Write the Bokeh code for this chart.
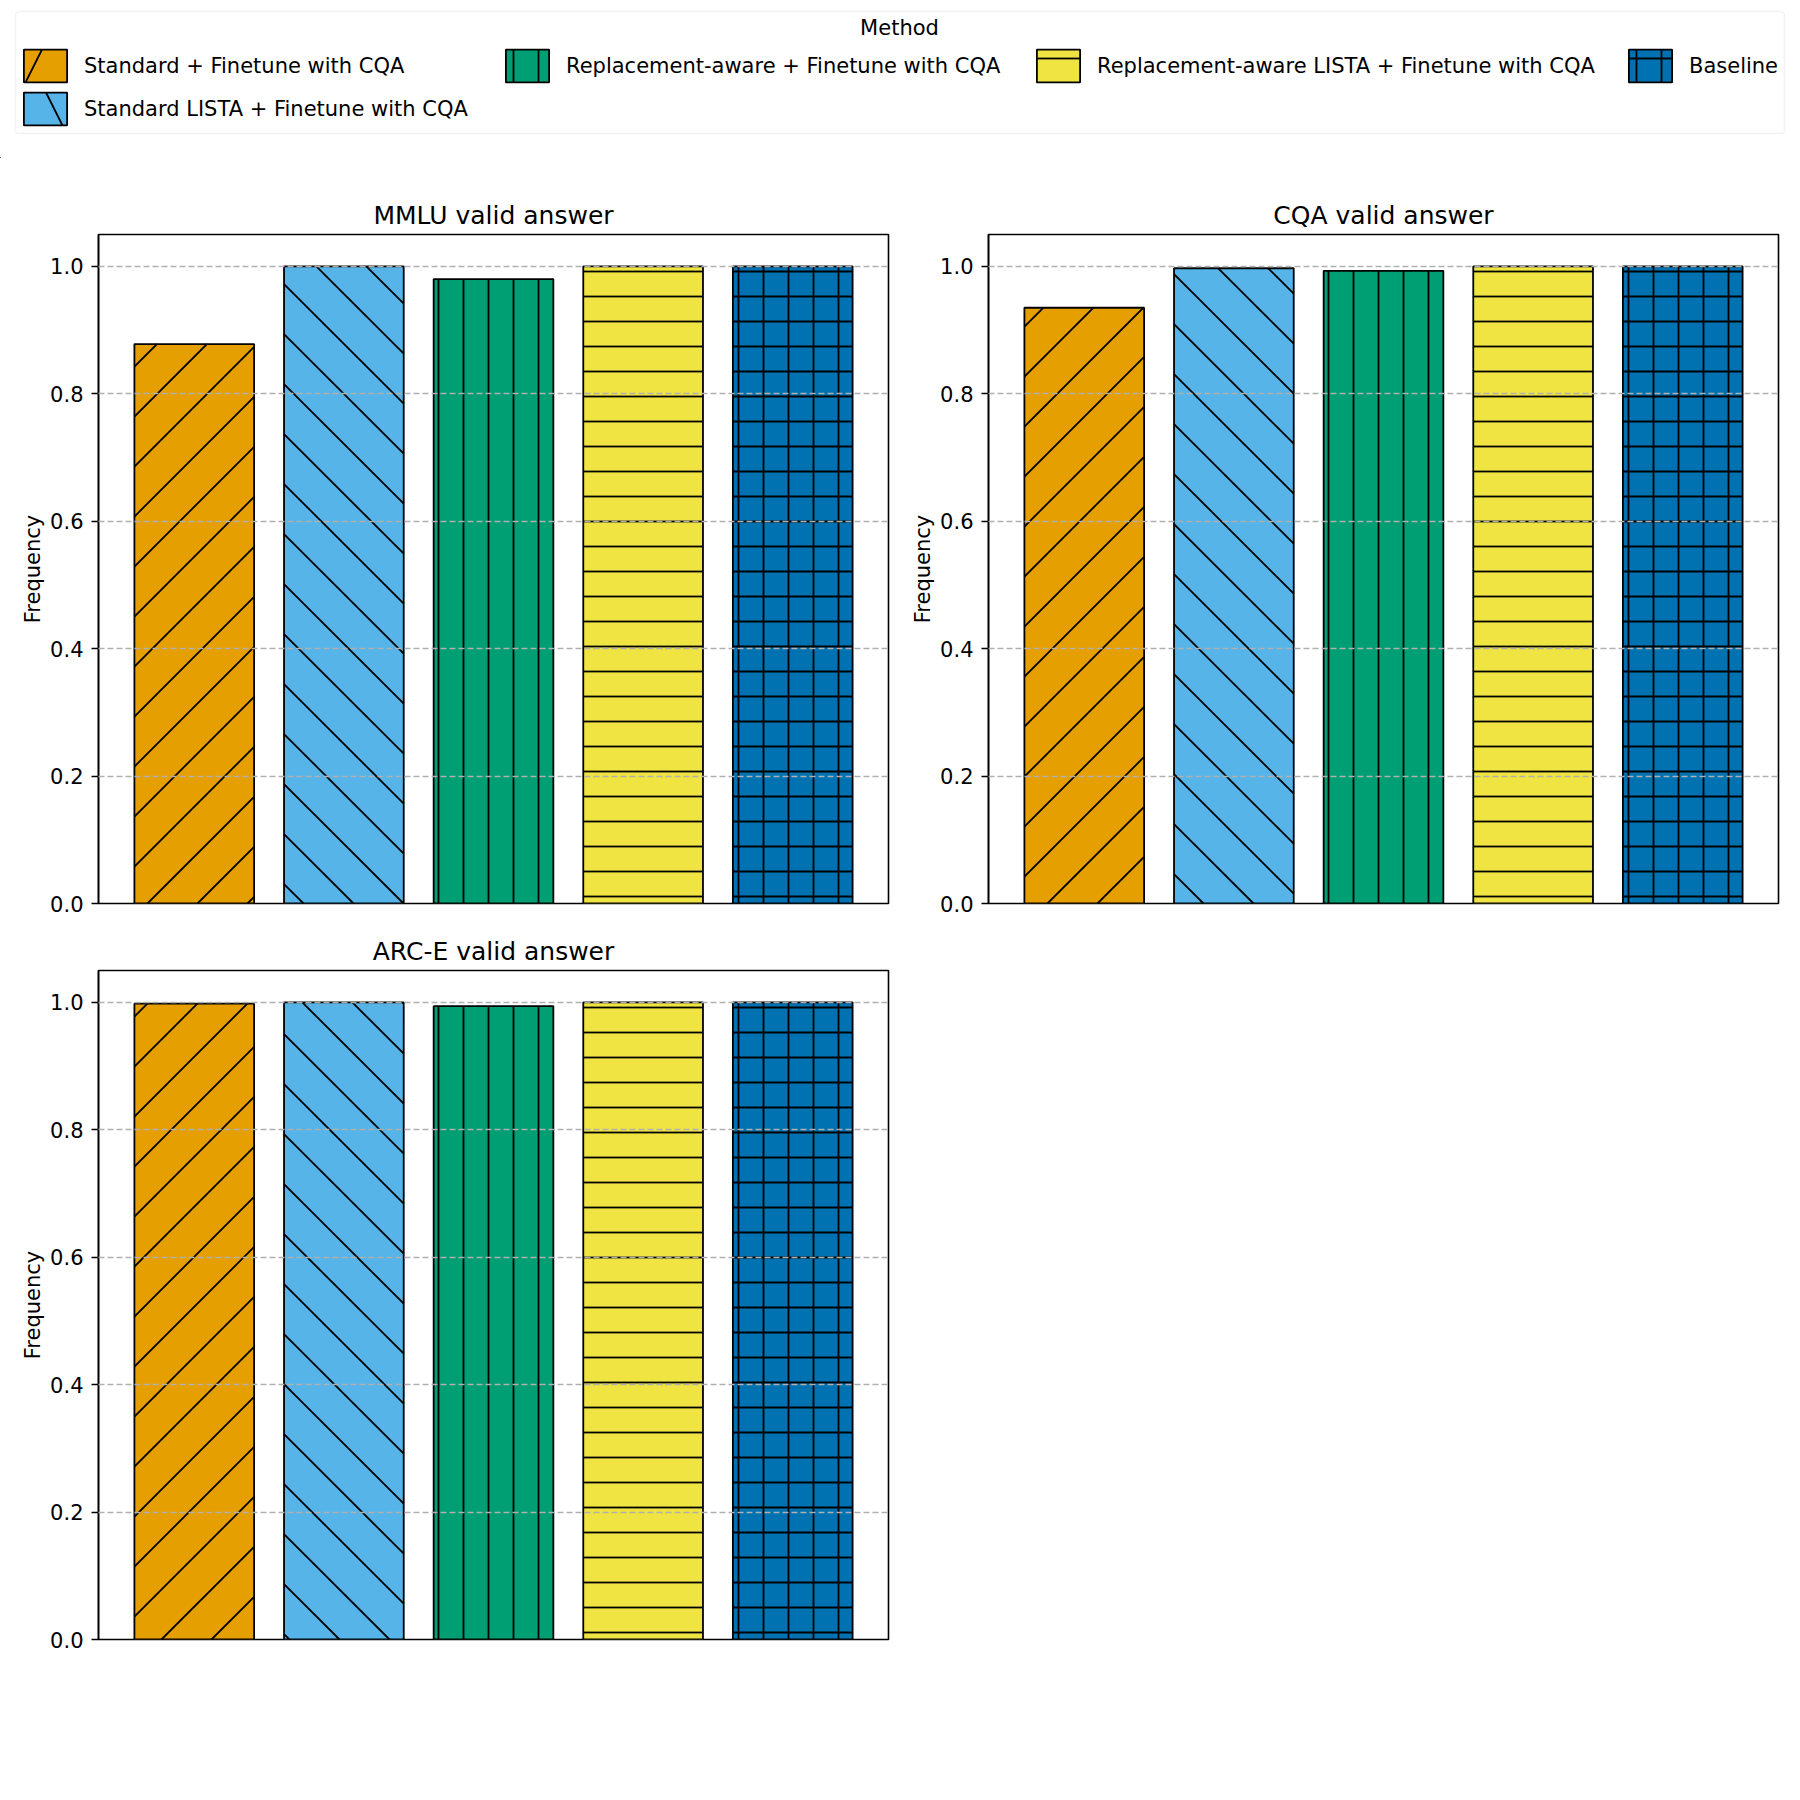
import math
from bokeh.plotting import figure
from bokeh.models import (ColumnDataSource, FactorRange, Range1d, FixedTicker,
                          NumeralTickFormatter, Legend, LegendItem, BoxAnnotation, Label)
from bokeh.layouts import column, row
from bokeh.embed import file_html
from bokeh.resources import INLINE

# methods, in plotting order
methods = [
    "Standard + Finetune with CQA",
    "Standard LISTA + Finetune with CQA",
    "Replacement-aware + Finetune with CQA",
    "Replacement-aware LISTA + Finetune with CQA",
    "Baseline",
]
colors = ["#E69F00", "#56B4E9", "#009E73", "#F0E442", "#0072B2"]
hatches = ["/", "\\", "|", "-", "+"]

# frequency of a valid answer per benchmark
mmlu_valid = [0.878, 1.0, 0.980, 1.0, 1.0]
cqa_valid = [0.935, 0.997, 0.993, 1.0, 1.0]
arce_valid = [0.998, 1.0, 0.994, 1.0, 1.0]

y_ticks = [0.0, 0.2, 0.4, 0.6, 0.8, 1.0]

FONT = "DejaVu Sans"
FRAME_W = 790
FRAME_H = 669
PAD = 0.14        # factor range padding on each side
Y_MAX = 1.05
BAR_W = 0.8
DIAG = ("/", "\\")
HATCH_W = 1.8


def diagonal_hatch(values, frame_left, frame_bottom, step=50):
    # bokeh's "/" and "\" patterns are steep, so build 45 degree hatch lines
    # (in screen space) inside each diagonal-hatched bar
    sx = FRAME_W / (len(methods) + 2 * PAD)
    sy = FRAME_H / Y_MAX
    x0s, y0s, x1s, y1s = [], [], [], []
    for i, (v, h) in enumerate(zip(values, hatches)):
        if h not in DIAG:
            continue
        left = (i + 0.5 - BAR_W / 2 + PAD) * sx
        right = (i + 0.5 + BAR_W / 2 + PAD) * sx
        top = v * sy
        if h == "/":
            phase = -(frame_left + frame_bottom) % step
            k0 = math.floor((left - top - phase) / step)
            k1 = math.ceil((right - phase) / step)
            for k in range(k0, k1 + 1):
                c = phase + k * step          # fx - fy = c
                xa, xb = max(left, c), min(right, c + top)
                if xb > xa:
                    x0s.append(xa); y0s.append(xa - c)
                    x1s.append(xb); y1s.append(xb - c)
        else:
            phase = (frame_bottom - frame_left) % step
            k0 = math.floor((left - phase) / step)
            k1 = math.ceil((right + top - phase) / step)
            for k in range(k0, k1 + 1):
                c = phase + k * step          # fx + fy = c
                xa, xb = max(left, c - top), min(right, c)
                if xb > xa:
                    x0s.append(xa); y0s.append(c - xa)
                    x1s.append(xb); y1s.append(c - xb)
    to_x = lambda px: px / sx - PAD
    to_y = lambda py: py / sy
    return ColumnDataSource(dict(x0=[to_x(v) for v in x0s], y0=[to_y(v) for v in y0s],
                                 x1=[to_x(v) for v in x1s], y1=[to_y(v) for v in y1s]))


def make_panel(title, values, left, right, top, bottom, frame_left, frame_bottom):
    p = figure(width=left + FRAME_W + right, height=top + FRAME_H + bottom,
               title=title,
               x_range=FactorRange(*methods, range_padding=PAD,
                                   range_padding_units="absolute"),
               y_range=Range1d(0, Y_MAX),
               x_axis_location=None,
               min_border_left=left, min_border_right=right,
               min_border_top=top, min_border_bottom=bottom,
               toolbar_location=None, output_backend="svg")
    src = ColumnDataSource(dict(method=methods, value=values, color=colors,
                                pattern=[" " if h in DIAG else h for h in hatches]))
    p.vbar(x="method", top="value", width=BAR_W, source=src,
           fill_color="color", line_color=None,
           hatch_pattern="pattern", hatch_scale=25,
           hatch_color="black", hatch_weight=HATCH_W)
    p.segment(x0="x0", y0="y0", x1="x1", y1="y1",
              source=diagonal_hatch(values, frame_left, frame_bottom),
              line_color="black", line_width=HATCH_W)
    p.vbar(x="method", top="value", width=BAR_W, source=src,
           fill_color=None, line_color="black", line_width=1.8)

    p.title.align = "center"
    p.title.text_font = FONT
    p.title.text_font_size = "25px"
    p.title.text_font_style = "normal"
    p.title.text_color = "black"
    p.title.standoff = 9

    ax = p.yaxis[0]
    ax.ticker = FixedTicker(ticks=y_ticks)
    ax.formatter = NumeralTickFormatter(format="0.0")
    ax.axis_label = "Frequency"
    ax.axis_label_text_font = FONT
    ax.axis_label_text_font_size = "21px"
    ax.axis_label_text_font_style = "normal"
    ax.axis_label_text_color = "black"
    ax.axis_label_standoff = 2
    ax.major_label_text_font = FONT
    ax.major_label_text_font_size = "21px"
    ax.major_label_text_color = "black"
    ax.major_label_standoff = 8
    ax.major_tick_out = 7
    ax.major_tick_in = 0
    ax.minor_tick_out = 0
    ax.minor_tick_in = 0
    ax.major_tick_line_width = 1.6
    ax.axis_line_width = 1.6
    ax.axis_line_color = "black"

    p.xgrid.grid_line_color = None
    p.ygrid.grid_line_color = "#b0b0b0"
    p.ygrid.grid_line_dash = "6 3"
    p.ygrid.grid_line_width = 1.6
    p.ygrid.level = "overlay"

    p.outline_line_color = "black"
    p.outline_line_width = 1.6
    return p


# legend strip across the top
LW, LH = 1792, 158
leg = figure(width=LW, height=LH, x_range=Range1d(0, LW), y_range=Range1d(0, LH),
             x_axis_location=None, y_axis_location=None, min_border=0,
             toolbar_location=None, output_backend="svg")
leg.outline_line_color = None
leg.grid.visible = False

proxy = ColumnDataSource(dict(x=[-100] * 5, top=[-50] * 5, color=colors,
                              pattern=hatches,
                              hscale=[100 if h in DIAG else 25 for h in hatches]))
proxy_r = leg.vbar(x="x", top="top", bottom=-80, width=10, source=proxy,
                   fill_color="color", line_color="black", line_width=1.8,
                   hatch_pattern="pattern", hatch_scale="hscale",
                   hatch_color="black", hatch_weight=HATCH_W)

leg.add_layout(BoxAnnotation(left=15, right=1784, bottom=25, top=147,
                             fill_alpha=0, line_color="#d4d4d4", line_width=1.6,
                             border_radius=4))
leg.add_layout(Label(x=899, y=131, text="Method", text_align="center",
                     text_baseline="middle", text_font=FONT,
                     text_font_size="21px", text_color="black"))

# matplotlib-style column layout: [0, 1], [2], [3], [4]
columns = [([0, 1], 18, 29), ([2], 500, 72), ([3], 1031, 72), ([4], 1623, 72)]
for idx, x0, y0 in columns:
    items = [LegendItem(label=methods[i], renderers=[proxy_r], index=i) for i in idx]
    lg = Legend(items=items, location=(x0, y0), orientation="vertical",
                glyph_width=54, glyph_height=41, label_height=41, spacing=2,
                label_standoff=12, padding=0, margin=0,
                label_text_font=FONT, label_text_font_size="21px",
                label_text_color="black",
                border_line_color=None, background_fill_alpha=0)
    leg.add_layout(lg)

# frame positions on the page (left edge, bottom edge) for hatch phase
p1 = make_panel("MMLU valid answer", mmlu_valid, 98, 2, 76, 16, 98, 903)
p2 = make_panel("CQA valid answer", cqa_valid, 98, 10, 76, 16, 988, 903)
p3 = make_panel("ARC-E valid answer", arce_valid, 98, 2, 51, 24, 98, 1639)

layout = column(leg, row(p1, p2), row(p3))

open("out.html", "w").write(file_html(layout, INLINE))
